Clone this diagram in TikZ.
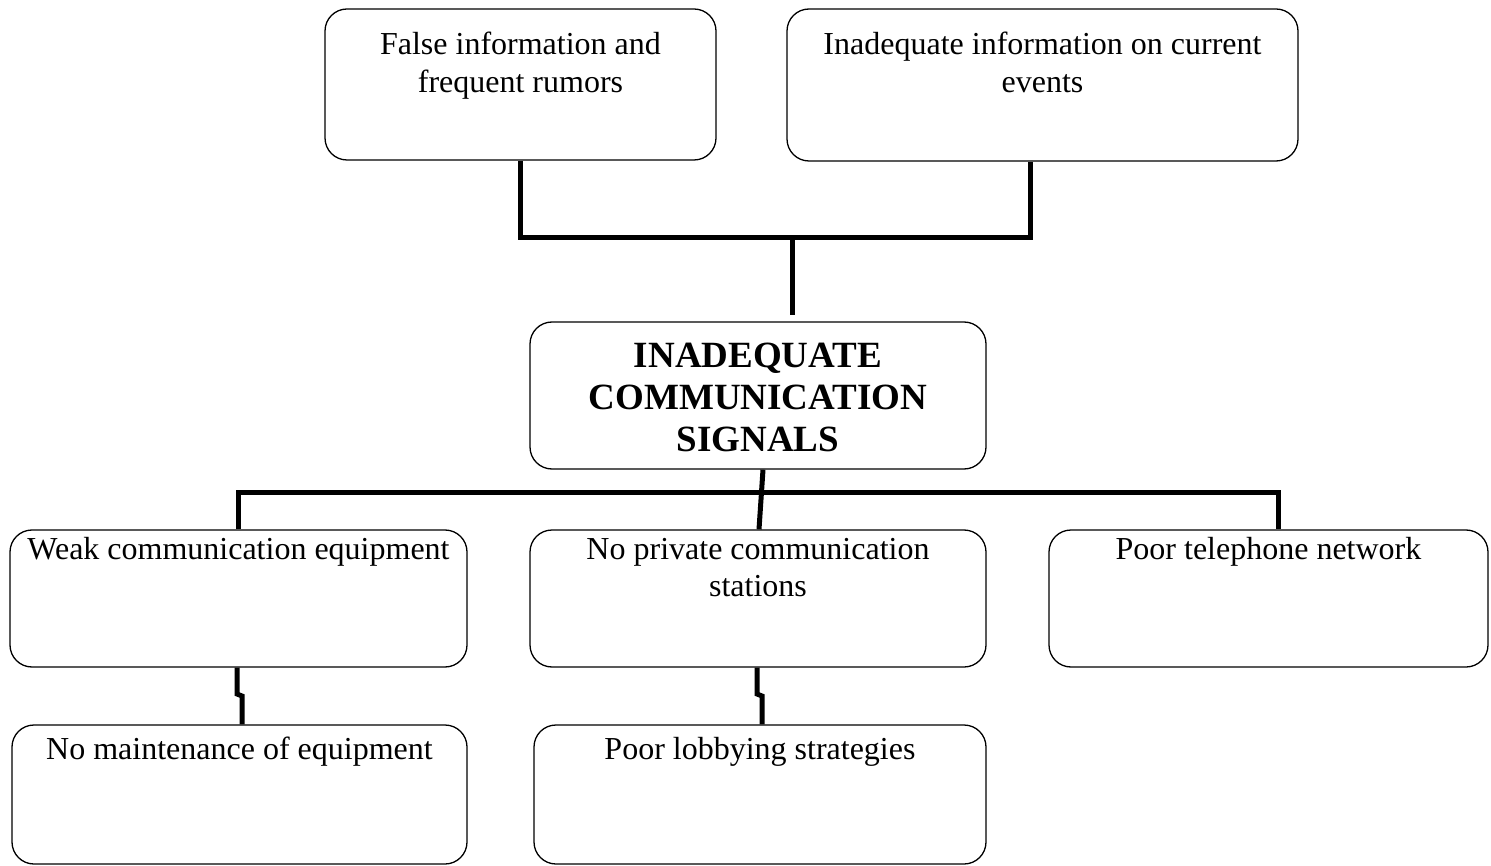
\documentclass[tikz,border=0pt]{standalone}
\usepackage{fontspec}
\setmainfont{Liberation Serif}
% box contents: width, height, depth of first baseline below the top edge, text
\newcommand{\celltext}[4]{\parbox[c][#2][t]{#1}{\centering\rule{0pt}{#3}#4}}
\begin{document}
\begin{tikzpicture}[x=1pt,y=-1pt,
  cell/.style={draw, line width=1.3pt, rounded corners=22pt, inner sep=0pt,
               font=\fontsize{32}{37.5}\selectfont},
  head/.style={cell, font=\fontsize{37}{42.5}\selectfont\bfseries},
  link/.style={line width=5pt, line join=miter}]
\useasboundingbox (0,0) rectangle (1491,866);

% effects
\node[cell] (tl) at (520.5,84.5)
  {\celltext{391pt}{151pt}{46pt}{False information and\\frequent rumors}};
\node[cell] (tr) at (1042.5,85)
  {\celltext{511pt}{152pt}{46pt}{Inadequate information on current\\events}};

% core problem
\node[head] (c) at (758,395.5)
  {\celltext{456pt}{147pt}{45pt}{INADEQUATE\\COMMUNICATION\\SIGNALS}};

% causes
\node[cell] (m1) at (238.5,598.5)
  {\celltext{457pt}{137pt}{29pt}{Weak communication equipment}};
\node[cell] (m2) at (758,598.5)
  {\celltext{456pt}{137pt}{29pt}{No private communication\\stations}};
\node[cell] (m3) at (1268.5,598.5)
  {\celltext{439pt}{137pt}{29pt}{Poor telephone network}};

% root causes
\node[cell] (b1) at (239.5,794.5)
  {\celltext{455pt}{139pt}{34pt}{No maintenance of equipment}};
\node[cell] (b2) at (760,794.5)
  {\celltext{452pt}{139pt}{34pt}{Poor lobbying strategies}};

% junction points
\coordinate (jtop) at (792,238);
\coordinate (ctop) at (792,315);
\coordinate (jbot) at (760,492);
\coordinate (k1a) at (237,694);
\coordinate (k1b) at (242,696);
\coordinate (k2a) at (757,694);
\coordinate (k2b) at (762,696);

% connectors
\draw[link] (tl.south) |- (jtop) -| ([xshift=-12.5pt]tr.south);
\draw[link] (jtop) -- (ctop);
\draw[link] (m1.north) |- (jbot) -| ([xshift=9.5pt]m3.north);
\draw[link] ([xshift=5pt]c.south) -- ([xshift=1pt]m2.north);
\draw[link] ([xshift=-1.5pt]m1.south) -- (k1a) -- (k1b) -- ([xshift=2.5pt]b1.north);
\draw[link] ([xshift=-1pt]m2.south) -- (k2a) -- (k2b) -- ([xshift=2pt]b2.north);
\end{tikzpicture}
\end{document}
